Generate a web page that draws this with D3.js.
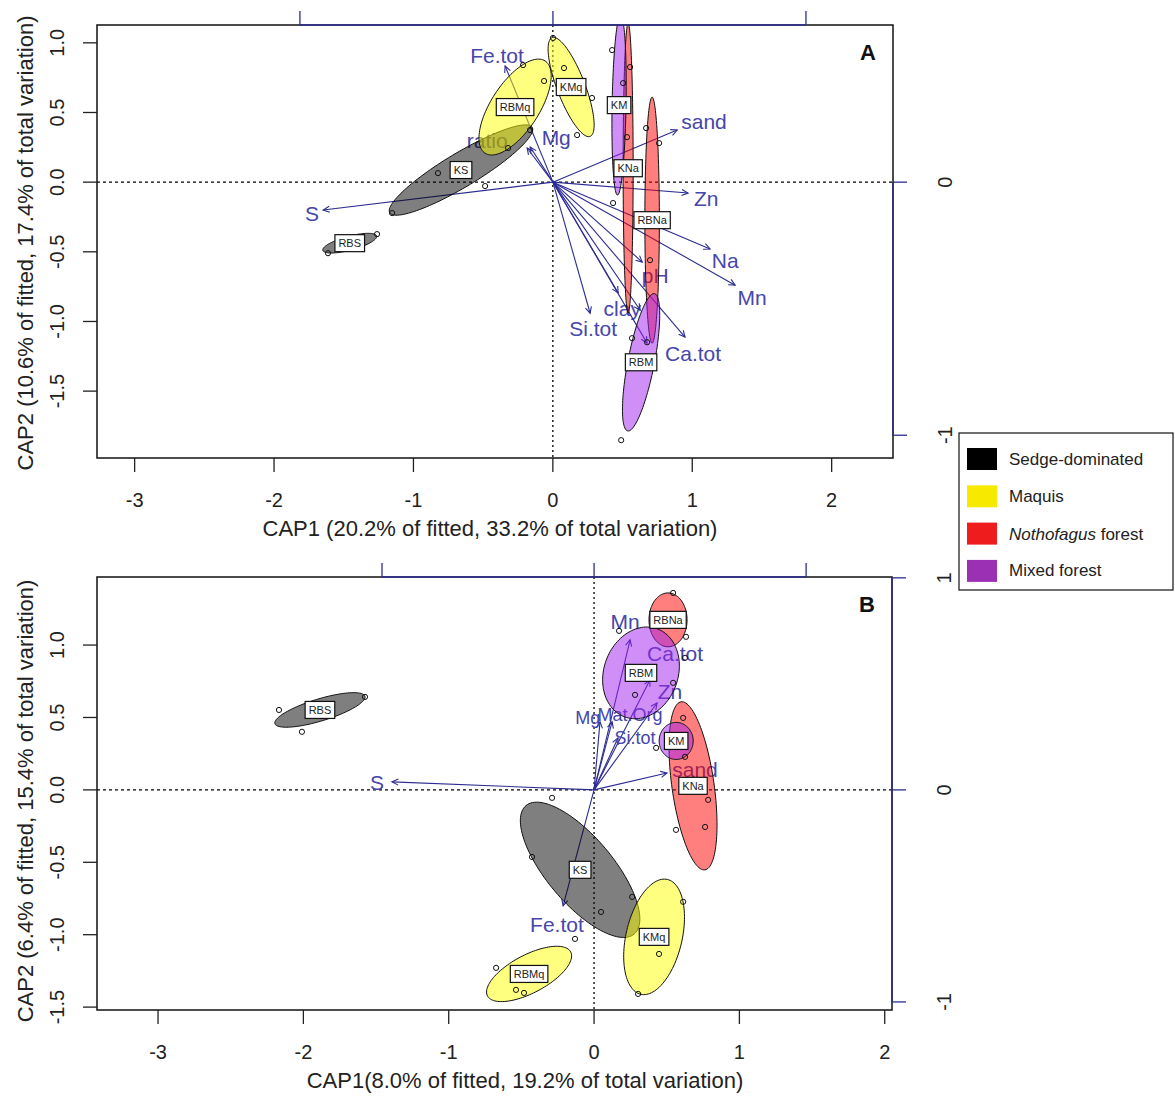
<!DOCTYPE html>
<html><head><meta charset="utf-8">
<script src="https://cdn.jsdelivr.net/npm/d3@7"></script>
<style>
body{margin:0;background:#fff}
svg{display:block}
text{font-family:"Liberation Sans",Arial,Helvetica,sans-serif}
</style>
</head><body>
<svg id="chart" width="1175" height="1111"></svg>
<script>
// ---------------- DATA ----------------
const groups = ["Sedge-dominated", "Maquis", "Nothofagus forest", "Mixed forest"];
const ellipseColors = ["#000000", "#ffff00", "#ff0000", "#a020f0"];
const legendColors = ["#000000", "#f7ea00", "#ee1c1c", "#9c30b4"];

const xTicks = [-3, -2, -1, 0, 1, 2];
const yTicks = [-1.5, -1, -0.5, 0, 0.5, 1];
const topTicks = [-1, 0, 1];
const rightTicksA = [0, -1];
const rightTicksB = [1, 0, -1];

const xTitleA = "CAP1 (20.2% of fitted, 33.2% of total variation)";
const yTitleA = "CAP2 (10.6% of fitted, 17.4% of total variation)";
const xTitleB = "CAP1(8.0% of fitted, 19.2% of total variation)";
const yTitleB = "CAP2 (6.4% of fitted, 15.4% of total variation)";

// ellipses: site, group index, centre, semi-axes, rotation (deg)
const ellipsesA = [
  {site:"RBS",  g:0, cx:-1.457, cy:-0.438, a:0.200, b:0.050, ang:15},
  {site:"KS",   g:0, cx:-0.659, cy: 0.087, a:0.596, b:0.122, ang:31},
  {site:"RBMq", g:1, cx:-0.271, cy: 0.539, a:0.395, b:0.172, ang:57},
  {site:"KMq",  g:1, cx: 0.131, cy: 0.683, a:0.380, b:0.100, ang:111},
  {site:"KNa",  g:2, cx: 0.540, cy: 0.100, a:1.040, b:0.036, ang:90},
  {site:"RBNa", g:2, cx: 0.712, cy:-0.273, a:0.883, b:0.052, ang:90},
  {site:"KM",   g:3, cx: 0.475, cy: 0.553, a:0.646, b:0.050, ang:89},
  {site:"RBM",  g:3, cx: 0.633, cy:-1.293, a:0.502, b:0.095, ang:79}
];
const ellipsesB = [
  {site:"RBS",  g:0, cx:-1.886, cy: 0.552, a:0.324, b:0.076, ang:17},
  {site:"KS",   g:0, cx:-0.096, cy:-0.552, a:0.579, b:0.228, ang:-50},
  {site:"RBMq", g:1, cx:-0.447, cy:-1.271, a:0.324, b:0.131, ang:28},
  {site:"KMq",  g:1, cx: 0.413, cy:-1.015, a:0.407, b:0.193, ang:77},
  {site:"RBNa", g:2, cx: 0.509, cy: 1.174, a:0.186, b:0.131, ang:90},
  {site:"KNa",  g:2, cx: 0.681, cy: 0.028, a:0.586, b:0.145, ang:98},
  {site:"RBM",  g:3, cx: 0.323, cy: 0.808, a:0.324, b:0.255, ang:70},
  {site:"KM",   g:3, cx: 0.565, cy: 0.338, a:0.128, b:0.117, ang:90}
];

// sample scores
const pointsA = [
  [-1.613,-0.510],[-1.261,-0.373],[-0.824,0.065],[-0.486,-0.028],[-1.153,-0.222],[-0.164,0.374],
  [-0.214,0.840],[-0.063,0.726],[-0.321,0.245],[0.080,0.819],[0.281,0.604],[0.174,0.338],[0.001,1.035],
  [0.554,0.826],[0.532,0.323],[0.432,-0.150],[0.669,0.388],[0.762,0.280],[0.697,-0.560],
  [0.425,0.948],[0.504,0.711],[0.490,-1.852],[0.568,-1.120],[0.676,-1.149]
];
const pointsB = [
  [-2.168,0.552],[-2.010,0.401],[-1.576,0.642],[-0.289,-0.055],[-0.427,-0.463],[0.262,-0.739],[0.048,-0.843],
  [-0.674,-1.229],[-0.537,-1.381],[-0.482,-1.402],[-0.131,-1.029],[0.613,-0.773],[0.447,-1.133],[0.303,-1.409],
  [0.544,1.360],[0.633,1.057],[0.613,0.497],[0.785,-0.069],[0.764,-0.256],[0.564,-0.276],
  [0.172,1.098],[0.282,0.656],[0.544,0.739],[0.626,0.912],[0.427,0.290],[0.626,0.228]
];

// environmental vectors (secondary axes): tip and label position
const arrowsA = [
  {v:"S",      x:-0.908, y:-0.110, lx:-0.952, ly:-0.122},
  {v:"Fe.tot", x:-0.189, y: 0.459, lx:-0.221, ly: 0.502},
  {v:"ratio",  x:-0.102, y: 0.135, lx:-0.260, ly: 0.166},
  {v:"Mg",     x:-0.090, y: 0.139, lx: 0.013, ly: 0.178},
  {v:"sand",   x: 0.491, y: 0.206, lx: 0.597, ly: 0.238},
  {v:"Zn",     x: 0.534, y:-0.043, lx: 0.606, ly:-0.063},
  {v:"Na",     x: 0.621, y:-0.264, lx: 0.681, ly:-0.308},
  {v:"Mn",     x: 0.720, y:-0.407, lx: 0.787, ly:-0.454},
  {v:"pH",     x: 0.353, y:-0.316, lx: 0.404, ly:-0.367},
  {v:"clay",   x: 0.258, y:-0.438, lx: 0.274, ly:-0.498},
  {v:"Si.tot", x: 0.147, y:-0.518, lx: 0.159, ly:-0.577},
  {v:"Ca.tot", x: 0.522, y:-0.612, lx: 0.554, ly:-0.679},
  {v:"",       x: 0.345, y:-0.506, lx: 0.345, ly:-0.506},
  {v:"",       x: 0.372, y:-0.636, lx: 0.372, ly:-0.636}
];
const arrowsB = [
  {v:"S",       x:-0.953, y: 0.038, lx:-1.024, ly: 0.033},
  {v:"Fe.tot",  x:-0.146, y:-0.547, lx:-0.175, ly:-0.637},
  {v:"Mn",      x: 0.170, y: 0.708, lx: 0.146, ly: 0.792},
  {v:"Ca.tot",  x: 0.264, y: 0.519, lx: 0.382, ly: 0.645},
  {v:"Zn",      x: 0.297, y: 0.410, lx: 0.358, ly: 0.462},
  {v:"Mg",      x: 0.028, y: 0.321, lx:-0.030, ly: 0.340},
  {v:"Mat.Org", x: 0.085, y: 0.321, lx: 0.170, ly: 0.352},
  {v:"Si.tot",  x: 0.113, y: 0.245, lx: 0.193, ly: 0.243},
  {v:"sand",    x: 0.344, y: 0.080, lx: 0.476, ly: 0.094}
];

// ---------------- DRAWING ----------------
const svg = d3.select("#chart");
const AXIS = "#222", BLUE = "#2c2c92", LBL = "#4646ab";
const fmtY = v => v.toFixed(1).replace("\u2212", "-");

function drawPanel(cfg, ellipses, points, arrows, rightTicks, xTitle, yTitle, tag, id) {
  const x = d3.scaleLinear().domain(cfg.xDom).range([cfg.x0, cfg.x1]);
  const y = d3.scaleLinear().domain(cfg.yDom).range([cfg.y1, cfg.y0]);
  const x2 = d3.scaleLinear().domain(cfg.x2Dom).range([cfg.x0, cfg.x1]);
  const y2 = d3.scaleLinear().domain(cfg.y2Dom).range([cfg.y1, cfg.y0]);
  const g = svg.append("g");

  g.append("clipPath").attr("id", "clip" + id).append("rect")
    .attr("x", cfg.x0).attr("y", cfg.y0).attr("width", cfg.x1 - cfg.x0).attr("height", cfg.y1 - cfg.y0);
  const inner = g.append("g").attr("clip-path", `url(#clip${id})`);

  // zero lines
  inner.append("line").attr("x1", cfg.x0).attr("x2", cfg.x1).attr("y1", y(0)).attr("y2", y(0))
    .attr("stroke", "#000").attr("stroke-width", 1.3).attr("stroke-dasharray", "3,3");
  inner.append("line").attr("x1", x(0)).attr("x2", x(0)).attr("y1", cfg.y0).attr("y2", cfg.y1)
    .attr("stroke", "#000").attr("stroke-width", 1.3).attr("stroke-dasharray", "2,3");

  // arrows
  const ox = x2(0), oy = y2(0);
  arrows.forEach(a => {
    const tx = x2(a.x), ty = y2(a.y);
    inner.append("line").attr("x1", ox).attr("y1", oy).attr("x2", tx).attr("y2", ty)
      .attr("stroke", BLUE).attr("stroke-width", 1.1);
    const th = Math.atan2(ty - oy, tx - ox), L = 7, w = 0.45;
    const p1 = [tx - L * Math.cos(th - w), ty - L * Math.sin(th - w)];
    const p2 = [tx - L * Math.cos(th + w), ty - L * Math.sin(th + w)];
    inner.append("path").attr("d", `M${p1}L${tx},${ty}L${p2}`)
      .attr("fill", "none").attr("stroke", BLUE).attr("stroke-width", 1.1);
    if (a.v) {
      inner.append("text").attr("x", x2(a.lx)).attr("y", y2(a.ly))
        .attr("text-anchor", "middle").attr("dominant-baseline", "central")
        .attr("font-size", cfg.crowded.includes(a.v) ? 18 : 21).attr("fill", LBL).text(a.v);
    }
  });

  // ellipses
  const N = 120;
  const line = d3.line().x(d => x(d[0])).y(d => y(d[1]));
  ellipses.forEach(e => {
    const th = e.ang * Math.PI / 180;
    const pts = d3.range(N + 1).map(i => {
      const t = 2 * Math.PI * i / N;
      const ex = e.a * Math.cos(t), ey = e.b * Math.sin(t);
      return [e.cx + ex * Math.cos(th) - ey * Math.sin(th), e.cy + ex * Math.sin(th) + ey * Math.cos(th)];
    });
    inner.append("path").attr("d", line(pts) + "Z")
      .attr("fill", ellipseColors[e.g]).attr("fill-opacity", 0.5)
      .attr("stroke", "#111").attr("stroke-width", 1);
  });

  // points
  inner.selectAll("circle.pt").data(points).join("circle")
    .attr("cx", d => x(d[0])).attr("cy", d => y(d[1])).attr("r", 2.6)
    .attr("fill", "none").attr("stroke", "#111").attr("stroke-width", 1);

  // site labels
  ellipses.forEach(e => {
    const lg = inner.append("g");
    const t = lg.append("text").attr("x", x(e.cx)).attr("y", y(e.cy))
      .attr("text-anchor", "middle").attr("dominant-baseline", "central")
      .attr("font-size", 11).attr("fill", "#222").text(e.site);
    const w = t.node().getComputedTextLength() + 7;
    lg.insert("rect", "text").attr("x", x(e.cx) - w / 2).attr("y", y(e.cy) - 8.5)
      .attr("width", w).attr("height", 17).attr("fill", "#fff").attr("stroke", "#111").attr("stroke-width", 1.2);
  });

  // frame
  g.append("rect").attr("x", cfg.x0).attr("y", cfg.y0).attr("width", cfg.x1 - cfg.x0).attr("height", cfg.y1 - cfg.y0)
    .attr("fill", "none").attr("stroke", "#111").attr("stroke-width", 1.5);

  // bottom axis
  g.selectAll("line.xt").data(xTicks).join("line")
    .attr("x1", d => x(d)).attr("x2", d => x(d)).attr("y1", cfg.y1).attr("y2", cfg.y1 + 14)
    .attr("stroke", AXIS).attr("stroke-width", 1.3);
  g.selectAll("text.xt").data(xTicks).join("text")
    .attr("x", d => x(d)).attr("y", cfg.y1 + 42).attr("text-anchor", "middle").attr("dominant-baseline", "central")
    .attr("font-size", 20).attr("fill", AXIS).text(d => String(d).replace("\u2212", "-"));
  // left axis
  g.selectAll("line.yt").data(yTicks).join("line")
    .attr("x1", cfg.x0 - 14).attr("x2", cfg.x0).attr("y1", d => y(d)).attr("y2", d => y(d))
    .attr("stroke", AXIS).attr("stroke-width", 1.3);
  g.selectAll("text.yt").data(yTicks).join("text")
    .attr("transform", d => `translate(${cfg.x0 - 40},${y(d)}) rotate(-90)`)
    .attr("text-anchor", "middle").attr("dominant-baseline", "central")
    .attr("font-size", 20).attr("fill", AXIS).text(fmtY);

  // top secondary axis
  const tt = topTicks.filter(d => x2(d) >= cfg.x0 && x2(d) <= cfg.x1);
  g.append("line").attr("x1", x2(d3.min(tt))).attr("x2", x2(d3.max(tt))).attr("y1", cfg.y0).attr("y2", cfg.y0)
    .attr("stroke", BLUE).attr("stroke-width", 1.5);
  g.selectAll("line.tt").data(tt).join("line")
    .attr("x1", d => x2(d)).attr("x2", d => x2(d)).attr("y1", cfg.y0).attr("y2", cfg.y0 - 14)
    .attr("stroke", BLUE).attr("stroke-width", 1.3);
  // right secondary axis
  g.append("line").attr("x1", cfg.x1).attr("x2", cfg.x1)
    .attr("y1", y2(d3.max(rightTicks))).attr("y2", y2(d3.min(rightTicks)))
    .attr("stroke", BLUE).attr("stroke-width", 1.5);
  g.selectAll("line.rt").data(rightTicks).join("line")
    .attr("x1", cfg.x1).attr("x2", cfg.x1 + 14).attr("y1", d => y2(d)).attr("y2", d => y2(d))
    .attr("stroke", BLUE).attr("stroke-width", 1.3);
  g.selectAll("text.rt").data(rightTicks).join("text")
    .attr("transform", d => `translate(${cfg.x1 + 52},${y2(d)}) rotate(-90)`)
    .attr("text-anchor", "middle").attr("dominant-baseline", "central")
    .attr("font-size", 20).attr("fill", AXIS).text(d => String(d).replace("\u2212", "-"));

  // titles
  g.append("text").attr("x", cfg.xTitleX).attr("y", cfg.y1 + 70).attr("text-anchor", "middle")
    .attr("dominant-baseline", "central").attr("font-size", 22).attr("fill", AXIS).text(xTitle);
  g.append("text").attr("transform", `translate(25,${cfg.yTitleY}) rotate(-90)`).attr("text-anchor", "middle")
    .attr("dominant-baseline", "central").attr("font-size", 22).attr("fill", AXIS).text(yTitle);
  // panel tag
  g.append("text").attr("x", cfg.x1 - 25).attr("y", cfg.y0 + 27).attr("text-anchor", "middle")
    .attr("dominant-baseline", "central").attr("font-size", 22).attr("font-weight", "bold").attr("fill", "#111").text(tag);
}

drawPanel({x0:97, x1:893, y0:25, y1:458, xDom:[-3.27, 2.44], yDom:[-1.98, 1.128],
           x2Dom:[-1.802, 1.344], y2Dom:[-1.090, 0.621], xTitleX:490, yTitleY:243, crowded:[]},
          ellipsesA, pointsA, arrowsA, rightTicksA, xTitleA, yTitleA, "A", "A");
drawPanel({x0:97, x1:892, y0:577, y1:1010, xDom:[-3.42, 2.05], yDom:[-1.52, 1.47],
           x2Dom:[-2.344, 1.405], y2Dom:[-1.038, 1.004], xTitleX:525, yTitleY:801,
           crowded:["Mg", "Mat.Org", "Si.tot"]},
          ellipsesB, pointsB, arrowsB, rightTicksB, xTitleB, yTitleB, "B", "B");

// legend
const leg = svg.append("g");
leg.append("rect").attr("x", 959).attr("y", 433).attr("width", 214).attr("height", 157)
  .attr("fill", "#fff").attr("stroke", "#111").attr("stroke-width", 1.2);
groups.forEach((name, i) => {
  const cy = 459 + i * 37.3;
  leg.append("rect").attr("x", 967).attr("y", cy - 11).attr("width", 30).attr("height", 22).attr("fill", legendColors[i]);
  const t = leg.append("text").attr("x", 1009).attr("y", cy).attr("dominant-baseline", "central")
    .attr("font-size", 17).attr("fill", "#222");
  if (name === "Nothofagus forest") {
    t.append("tspan").attr("font-style", "italic").text("Nothofagus");
    t.append("tspan").text(" forest");
  } else t.text(name);
});
</script>
</body></html>
